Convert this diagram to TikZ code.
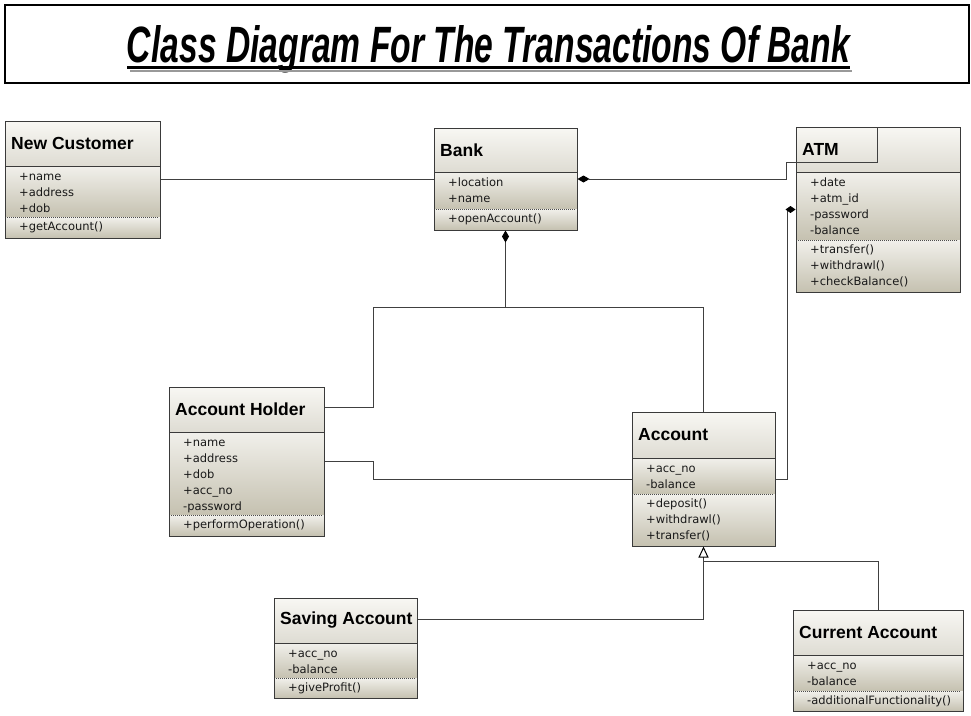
\documentclass[tikz,border=0pt]{standalone}
\usepackage{fontspec}
\usepackage{graphicx}
\setmainfont{Liberation Sans}
\newfontfamily\memberfont{DejaVu Sans}
\usetikzlibrary{arrows.meta}

\definecolor{hdrtop}{HTML}{F8F7F3}
\definecolor{hdrbot}{HTML}{DEDCD3}
\definecolor{cmptop}{HTML}{F1F0EB}
\definecolor{cmpbot}{HTML}{C5C1B0}
\definecolor{edgegray}{HTML}{3A3A3A}
\definecolor{wiregray}{HTML}{404040}

\tikzset{
  classframe/.style={draw=edgegray, line width=1pt, inner sep=0pt},
  classtitle/.style={anchor=west, inner sep=0pt, text=black,
    font=\fontsize{17.5}{20}\selectfont\bfseries},
  member/.style={anchor=base west, inner sep=0pt, text=black!90,
    font=\memberfont\fontsize{11.5}{13}\selectfont},
  splitline/.style={draw=edgegray, line width=1pt},
  opsline/.style={draw=black!70, line width=0.8pt, dash pattern=on 1pt off 1pt},
  wire/.style={draw=wiregray, line width=1pt},
  comp/.style={{Diamond[length=12pt,width=7pt,color=black]}-},
  compend/.style={-{Diamond[length=10pt,width=7pt,color=black]}},
  inherit/.style={-{Triangle[open,length=11pt,width=10pt,color=black]}},
}

% \umlclass{name}{x1}{y1}{x2}{y2}{header bottom}{operations top}{title}{attributes}
\newcommand{\umlclass}[9]{%
  \shade[top color=hdrtop,bottom color=hdrbot] (#2,#3) rectangle (#4,#6);
  \shade[top color=cmptop,bottom color=cmpbot] (#2,#6) rectangle (#4,#7);
  \shade[top color=cmptop,bottom color=cmpbot] (#2,#7) rectangle (#4,#5);
  \draw[splitline] (#2,#6) -- (#4,#6);
  \draw[opsline] (#2+2,#7) -- (#4-2,#7);
  \node[classframe, minimum width={(#4-#2)*1pt}, minimum height={(#5-#3)*1pt}]
    (#1) at ({(#2+#4)/2},{(#3+#5)/2}) {};
  \node[classtitle] (#1-title) at ({#2+6},{(#3+#6)/2}) {#8};
  \foreach \m [count=\i] in {#9}
    \node[member] (#1-a\i) at ({#2+14},{#6+14+16*(\i-1)}) {\m};
}
% \umlops{name}{x1}{operations top}{operations}
\newcommand{\umlops}[4]{%
  \foreach \m [count=\i] in {#4}
    \node[member] (#1-o\i) at ({#2+14},{#3+13.5+16*(\i-1)}) {\m};
}

\begin{document}
\begin{tikzpicture}[x=1pt,y=-1pt]
\useasboundingbox (0,0) rectangle (971,715);
\fill[white] (0,0) rectangle (971,715);

% heading
\node[draw=black, line width=1.2pt, minimum width=964pt, minimum height=78pt, inner sep=0pt]
  (headbox) at (487,44) {};
\node[anchor=base, inner sep=0pt] (heading) at (488.5,62)
  {\resizebox{723pt}{37pt}{\bfseries\itshape Class Diagram For The Transactions Of Bank}};
\draw[black!40, line width=2pt] (130,70.5) -- (852,70.5);
\draw[black, line width=3pt] (127,67) -- (850,67);

% classes
\umlclass{nc}{5}{121}{160}{238}{166}{217}{New Customer}{+name,+address,+dob}
\umlops{nc}{5}{217}{+getAccount()}

\umlclass{bank}{434}{128}{577}{230}{172}{209}{Bank}{+location,+name}
\umlops{bank}{434}{209}{+openAccount()}

\umlclass{atm}{796}{127}{960}{292}{172}{240}{ATM}{+date,+atm\_id,-password,-balance}
\umlops{atm}{796}{240}{+transfer(),+withdrawl(),+checkBalance()}

\umlclass{ah}{169}{387}{324}{536}{432}{515}{Account Holder}{+name,+address,+dob,+acc\_no,-password}
\umlops{ah}{169}{515}{+performOperation()}

\umlclass{acc}{632}{412}{775}{546}{458}{494}{Account}{+acc\_no,-balance}
\umlops{acc}{632}{494}{+deposit(),+withdrawl(),+transfer()}

\umlclass{sa}{274}{598}{417}{698}{643}{678}{Saving Account}{+acc\_no,-balance}
\umlops{sa}{274}{678}{+giveProfit()}

\umlclass{ca}{793}{610}{963}{711}{655}{691}{Current Account}{+acc\_no,-balance}
\umlops{ca}{793}{691}{-additionalFunctionality()}

% associations
\draw[wire] (nc.east) -- ++(48,0) |- (bank.west);
\draw[wire, comp] (bank.east) -- ++(209,0)
  |- ([xshift=82pt,yshift=-36pt]atm.north west) -- ([xshift=82pt]atm.north west);
\draw[wire, comp] (bank.south) -- ++(0,77) coordinate (bankjoin);
\draw[wire] ([yshift=-21pt]ah.north east) -- ++(49,0) |- (bankjoin) -| (acc.north);
\draw[wire] (ah.east) -- ++(49,0) |- (acc.west);
\draw[wire, compend] (acc.east) -- ++(12,0) |- ([yshift=-83pt]atm.north west);

% generalisation
\draw[wire, inherit] ([yshift=-22pt]sa.north east) -| (acc.south);
\draw[wire] (ca.north) |- ([yshift=-15pt]acc.south);
\end{tikzpicture}
\end{document}
